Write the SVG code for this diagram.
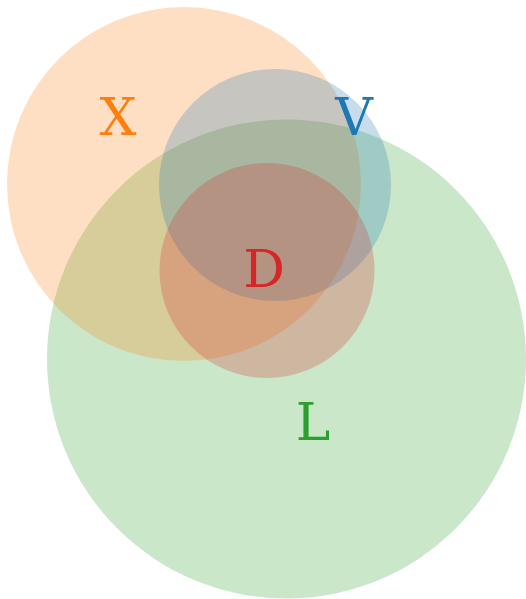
<svg xmlns="http://www.w3.org/2000/svg" width="526" height="599" viewBox="0 0 526 599">
<style>
.c{fill-opacity:0.25;stroke:none}
.t{font-family:"DejaVu Serif",serif;font-size:52px;text-anchor:middle}
</style>
<rect width="526" height="599" fill="#ffffff"/>
<g id="L"><circle class="c" cx="286.5" cy="359" r="239.5" fill="#2ca02c"/></g>
<g id="X"><circle class="c" cx="184" cy="184" r="177" fill="#ff7f0e"/></g>
<g id="V"><circle class="c" cx="275" cy="185" r="116" fill="#1f77b4"/></g>
<g id="D"><circle class="c" cx="267" cy="270.5" r="107.5" fill="#d62728"/></g>
<g id="labels">
<text class="t" x="118" y="135" fill="#ff7f0e">X</text>
<text class="t" x="354" y="135" fill="#1f77b4">V</text>
<text class="t" x="264" y="287" fill="#d62728">D</text>
<text class="t" x="313" y="440" fill="#2ca02c">L</text>
</g>
</svg>
